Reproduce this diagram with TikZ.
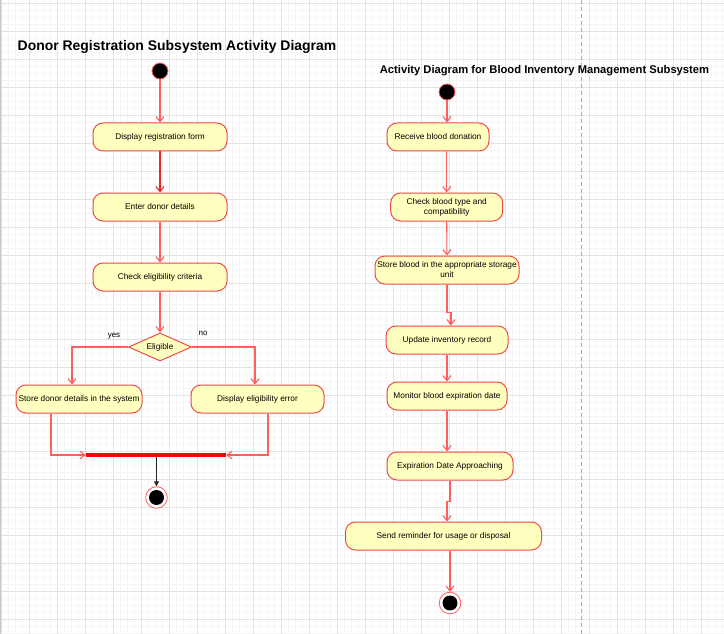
\documentclass[tikz,border=0pt]{standalone}
\usepackage{fontspec}
\setmainfont{Liberation Sans}
\usetikzlibrary{shapes.geometric,arrows.meta}
\definecolor{gridmaj}{RGB}{226,226,226}
\definecolor{gridmin}{RGB}{245,245,245}
\definecolor{boxfill}{RGB}{255,255,192}
\definecolor{boxline}{RGB}{240,75,75}
\definecolor{connred}{RGB}{255,95,95}
\definecolor{darkred}{RGB}{235,40,40}
\definecolor{dashgray}{RGB}{175,175,175}
\begin{document}
\begin{tikzpicture}[x=1pt,y=-1pt,
  act/.style={draw=boxline, fill=boxfill, line width=1pt, rounded corners=10pt,
    minimum height=28pt, inner sep=1pt, font=\fontsize{8.3}{10}\selectfont, align=center},
  dec/.style={diamond, aspect=2.25, draw=boxline, fill=boxfill, line width=1pt,
    minimum width=63pt, minimum height=28pt, inner sep=0pt, font=\fontsize{8.3}{10}\selectfont},
  initnode/.style={circle, fill=black, draw=connred, line width=0.8pt, minimum size=16pt, inner sep=0pt},
  finalnode/.style={circle, draw=connred, fill=white, line width=0.8pt, minimum size=21.6pt, inner sep=0pt,
    path picture={\fill[black] (path picture bounding box.center) circle (7.5pt);}},
  conn/.style={draw=connred, line width=1.15pt, -{Straight Barb[length=5pt,width=8pt]}},
  blackarrow/.style={draw=black!85, line width=1pt, -{Triangle[length=5pt,width=5pt]}},
  lbl/.style={font=\fontsize{8}{9.5}\selectfont, inner sep=0pt},
  title/.style={font=\bfseries, inner sep=0pt}
]
\useasboundingbox (0,0) rectangle (724,634);
\fill[white] (0,0) rectangle (724,634);
% grid
\foreach \i in {0,...,103} \draw[gridmin, line width=0.6pt] ({1.3+7*\i},0) -- ({1.3+7*\i},634);
\foreach \i in {0,...,90} \draw[gridmin, line width=0.6pt] (0,{3.3+7*\i}) -- (724,{3.3+7*\i});
\foreach \i in {0,...,25} \draw[gridmaj, line width=0.8pt] ({1.3+28*\i},0) -- ({1.3+28*\i},634);
\foreach \i in {0,...,22} \draw[gridmaj, line width=0.8pt] (0,{3.3+28*\i}) -- (724,{3.3+28*\i});
\draw[black!22, line width=1pt] (0.5,0) -- (0.5,634);
\draw[dashgray, line width=0.8pt, dash pattern=on 4pt off 3pt] (581.7,0) -- (581.7,634);

% titles
\node[title, font=\fontsize{13.95}{15}\selectfont\bfseries, anchor=base] (t1) at (177,50.5) {Donor Registration Subsystem Activity Diagram};
\node[title, font=\fontsize{11.2}{12}\selectfont\bfseries, anchor=base] (t2) at (544.5,74) {Activity Diagram for Blood Inventory Management Subsystem};

% left diagram
\node[initnode] (i1) at (160,71) {};
\node[act, minimum width=134pt] (b1) at (160,137) {Display registration form};
\node[act, minimum width=134pt] (b2) at (160,207) {Enter donor details};
\node[act, minimum width=134pt] (b3) at (160,277) {Check eligibility criteria};
\node[dec] (d) at (160,347) {Eligible};
\node[act, minimum width=126pt] (b4) at (79,399) {Store donor details in the system};
\node[act, minimum width=133pt] (b5) at (257.5,399) {Display eligibility error};
\node[fill=red, draw=none, minimum width=140pt, minimum height=4pt, inner sep=0pt] (bar) at (156,455) {};
\node[finalnode] (f1) at (156.5,497.5) {};
\node[lbl, anchor=base] (yes) at (114,337) {yes};
\node[lbl, anchor=base] (no) at (203,335.5) {no};

\draw[conn] (i1) -- (b1);
\draw[conn, draw=darkred] (b1) -- (b2);
\draw[conn] (b2) -- (b3);
\draw[conn] (b3) -- (d);
\draw[conn] (d.west) -| ([xshift=-7pt]b4.north);
\draw[conn] (d.east) -| ([xshift=-2.5pt]b5.north);
\draw[conn] ([xshift=-28pt]b4.south) |- (bar.west);
\draw[conn] ([xshift=10.5pt]b5.south) |- (bar.east);
\draw[blackarrow] (bar.south -| f1) -- (f1);

% right diagram
\node[initnode] (i2) at (447,92) {};
\node[act, minimum width=102pt] (rA) at (438,137) {Receive blood donation};
\node[act, minimum width=112pt] (rB) at (446.7,207) {Check blood type and\\compatibility};
\node[act, minimum width=144pt] (rC) at (447,270) {Store blood in the appropriate storage\\unit};
\node[act, minimum width=122pt] (rD) at (447,340) {Update inventory record};
\node[act, minimum width=120pt] (rE) at (447,396) {Monitor blood expiration date};
\node[act, minimum width=126pt] (rF) at (450,466) {Expiration Date Approaching};
\node[act, minimum width=196pt] (rG) at (443.5,536) {Send reminder for usage or disposal};
\node[finalnode] (f2) at (450,603) {};

\draw[conn] (i2) -- (i2 |- rA.north);
\draw[conn] (rA.south -| rB) -- (rB);
\draw[conn] (rB) -- (rC);
\draw[conn] (rC.south) -- ++(0,28) -| ([xshift=4pt]rD.north);
\draw[conn] (rD) -- (rE);
\draw[conn] (rE) -- (rE |- rF.north);
\draw[conn] ([xshift=0pt]rF.south) -- ++(0,21) -| ([xshift=3.5pt]rG.north);
\draw[conn] (rG.south -| f2) -- (f2);
\end{tikzpicture}
\end{document}
